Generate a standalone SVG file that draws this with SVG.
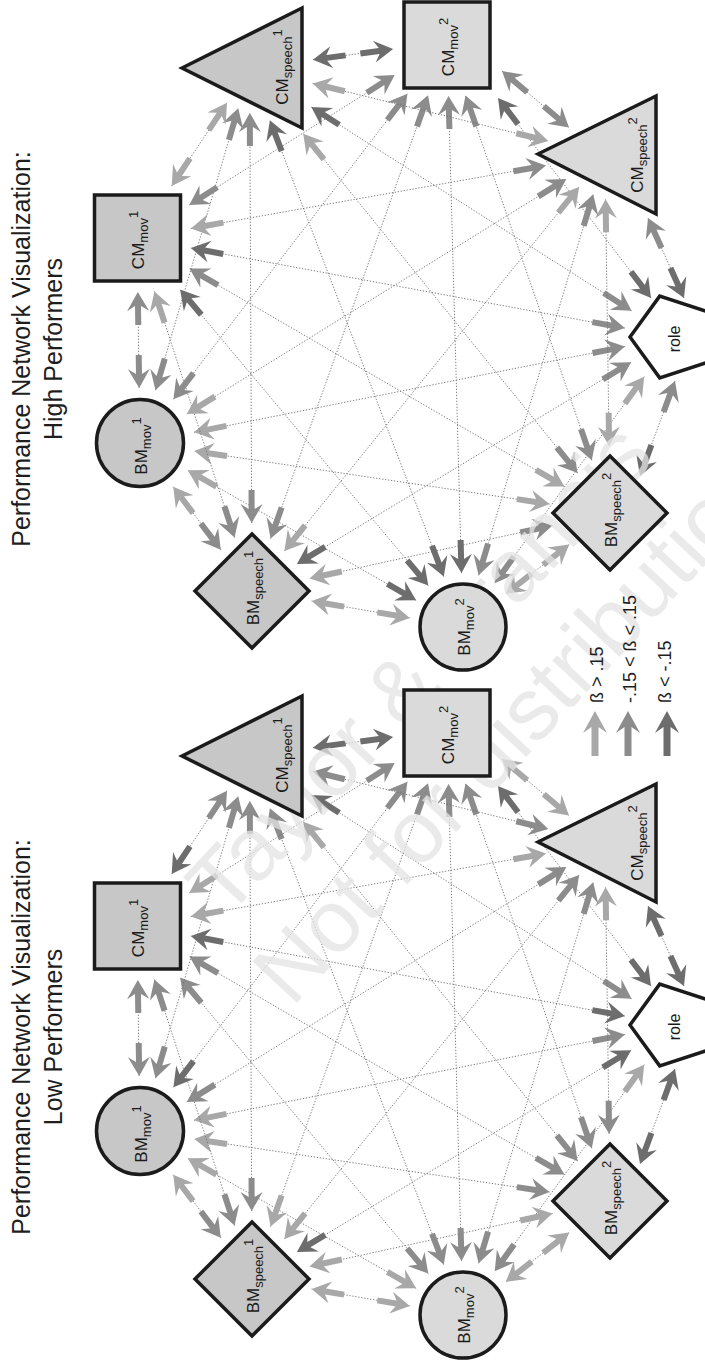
<svg xmlns="http://www.w3.org/2000/svg" width="705" height="1365" viewBox="0 0 705 1365">
<style>
.edge{stroke:#6e6e6e;stroke-width:0.9;stroke-dasharray:1.3 1.7;fill:none}
.sL{marker-start:url(#aL)}.sM{marker-start:url(#aM)}.sD{marker-start:url(#aD)}
.eL{marker-end:url(#aL)}.eM{marker-end:url(#aM)}.eD{marker-end:url(#aD)}
.nd{stroke:#1b1b1b;stroke-width:3.5}
.f1{fill:#c7c7c7}.f2{fill:#dadada}.f0{fill:#ffffff}
.lb{font-family:"Liberation Sans",Arial,sans-serif;font-size:17px;fill:#1a1a1a;text-anchor:middle}
.sb{font-size:13px}
.ttl{font-family:"Liberation Sans",Arial,sans-serif;font-size:25px;fill:#1e1e1e;text-anchor:middle}
.lg{font-family:"Liberation Sans",Arial,sans-serif;font-size:18px;fill:#1e1e1e}
.wm{font-family:"Liberation Sans",Arial,sans-serif;font-size:88px;fill:#e4e4e4;opacity:0.75}
</style>
<defs>
<marker id="aL" markerUnits="userSpaceOnUse" markerWidth="40" markerHeight="30" refX="0" refY="0" orient="auto-start-reverse" overflow="visible"><path d="M0,0 L-19,-11 L-14,-3 L-33,-3 L-33,3 L-14,3 L-19,11 Z" fill="#a8a8a8"/></marker>
<marker id="aM" markerUnits="userSpaceOnUse" markerWidth="40" markerHeight="30" refX="0" refY="0" orient="auto-start-reverse" overflow="visible"><path d="M0,0 L-19,-11 L-14,-3 L-33,-3 L-33,3 L-14,3 L-19,11 Z" fill="#8c8c8c"/></marker>
<marker id="aD" markerUnits="userSpaceOnUse" markerWidth="40" markerHeight="30" refX="0" refY="0" orient="auto-start-reverse" overflow="visible"><path d="M0,0 L-19,-11 L-14,-3 L-33,-3 L-33,3 L-14,3 L-19,11 Z" fill="#6d6d6d"/></marker>
</defs>
<rect width="705" height="1365" fill="#ffffff"/>

<!-- Panel titles -->
<g id="titles">
<text class="ttl" transform="translate(30,349) rotate(-90)">Performance Network Visualization:</text>
<text class="ttl" transform="translate(62,349) rotate(-90)">High Performers</text>
<text class="ttl" transform="translate(30,1037) rotate(-90)">Performance Network Visualization:</text>
<text class="ttl" transform="translate(62,1037) rotate(-90)">Low Performers</text>
</g>

<!-- Connectors: high performers (top) -->
<g id="high-edges">
<line class="edge sM eD" x1="675" y1="381" x2="640" y2="476"/>
<line class="edge sL eM" x1="644.2" y1="376.7" x2="494.7" y2="583.3"/>
<line class="edge sM eD" x1="631.1" y1="362.3" x2="296.9" y2="563.9"/>
<line class="edge sM eL" x1="624.9" y1="346.6" x2="194.0" y2="432.3"/>
<line class="edge sM eD" x1="624.8" y1="328.1" x2="190.8" y2="248.0"/>
<line class="edge sM eD" x1="631.6" y1="310.7" x2="311.3" y2="107.0"/>
<line class="edge sD eD" x1="651" y1="298" x2="498" y2="98"/>
<line class="edge sD eM" x1="684" y1="298" x2="648" y2="218"/>
<line class="edge sL eL" x1="569.2" y1="544.6" x2="505.7" y2="593.9"/>
<line class="edge sM eL" x1="552.5" y1="525.5" x2="309.5" y2="578.5"/>
<line class="edge sL eL" x1="549.5" y1="504.0" x2="194.4" y2="451.1"/>
<line class="edge sL eM" x1="564.4" y1="486.5" x2="189.5" y2="268.5"/>
<line class="edge sM eL" x1="577.6" y1="473.0" x2="303.2" y2="133.7"/>
<line class="edge sM eM" x1="591.8" y1="460.3" x2="465.5" y2="95.4"/>
<line class="edge sL eL" x1="609.1" y1="445.8" x2="605.6" y2="199.3"/>
<line class="edge sL eL" x1="409.8" y1="617.9" x2="311.6" y2="601.1"/>
<line class="edge sD eL" x1="416.1" y1="600.3" x2="187.8" y2="470.2"/>
<line class="edge sD eD" x1="428.3" y1="585.6" x2="180.1" y2="289.5"/>
<line class="edge sD eD" x1="443.8" y1="576.6" x2="269.9" y2="120.3"/>
<line class="edge sD eM" x1="461.5" y1="573" x2="448.5" y2="96"/>
<line class="edge sM eM" x1="478.6" y1="575.3" x2="593.2" y2="194.3"/>
<line class="edge sM eL" x1="220.8" y1="549.8" x2="173.2" y2="486.8"/>
<line class="edge sM eL" x1="234.6" y1="537.6" x2="154.4" y2="291.4"/>
<line class="edge sM eM" x1="251.7" y1="523" x2="249.8" y2="113"/>
<line class="edge sM eM" x1="270.6" y1="538.6" x2="428.0" y2="95.3"/>
<line class="edge sL eL" x1="284.4" y1="551.0" x2="579.1" y2="187.0"/>
<line class="edge sM eM" x1="139.2" y1="388" x2="137.8" y2="292"/>
<line class="edge sM eM" x1="155.5" y1="390.2" x2="238.2" y2="108.2"/>
<line class="edge sM eM" x1="173.4" y1="399.3" x2="407.4" y2="93.8"/>
<line class="edge sL eM" x1="186.8" y1="414.0" x2="566.3" y2="179.0"/>
<line class="edge sL eL" x1="171.7" y1="185.9" x2="227.0" y2="102.7"/>
<line class="edge sM eM" x1="189.3" y1="204.9" x2="394.7" y2="75.1"/>
<line class="edge sL eM" x1="190.9" y1="228.4" x2="545.9" y2="165.5"/>
<line class="edge sD eD" x1="312.9" y1="59.7" x2="393.1" y2="49.1"/>
<line class="edge sL eL" x1="312.7" y1="83.4" x2="548.3" y2="141.1"/>
<line class="edge sM eM" x1="502" y1="71" x2="569" y2="127.5"/>
</g>

<!-- Connectors: low performers (bottom) -->
<g id="low-edges" transform="translate(0,688)">
<line class="edge sD eD" x1="675" y1="381" x2="640" y2="476"/>
<line class="edge sL eM" x1="644.2" y1="376.7" x2="494.7" y2="583.3"/>
<line class="edge sD eD" x1="631.1" y1="362.3" x2="296.9" y2="563.9"/>
<line class="edge sM eL" x1="624.9" y1="346.6" x2="194.0" y2="432.3"/>
<line class="edge sD eD" x1="624.8" y1="328.1" x2="190.8" y2="248.0"/>
<line class="edge sM eD" x1="631.6" y1="310.7" x2="311.3" y2="107.0"/>
<line class="edge sD eD" x1="651" y1="298" x2="498" y2="98"/>
<line class="edge sD eD" x1="684" y1="298" x2="648" y2="218"/>
<line class="edge sL eL" x1="569.2" y1="544.6" x2="505.7" y2="593.9"/>
<line class="edge sL eL" x1="552.5" y1="525.5" x2="309.5" y2="578.5"/>
<line class="edge sM eL" x1="549.5" y1="504.0" x2="194.4" y2="451.1"/>
<line class="edge sM eM" x1="564.4" y1="486.5" x2="189.5" y2="268.5"/>
<line class="edge sM eL" x1="577.6" y1="473.0" x2="303.2" y2="133.7"/>
<line class="edge sM eM" x1="591.8" y1="460.3" x2="465.5" y2="95.4"/>
<line class="edge sM eL" x1="609.1" y1="445.8" x2="605.6" y2="199.3"/>
<line class="edge sL eL" x1="409.8" y1="617.9" x2="311.6" y2="601.1"/>
<line class="edge sL eL" x1="416.1" y1="600.3" x2="187.8" y2="470.2"/>
<line class="edge sM eM" x1="428.3" y1="585.6" x2="180.1" y2="289.5"/>
<line class="edge sM eM" x1="443.8" y1="576.6" x2="269.9" y2="120.3"/>
<line class="edge sM eM" x1="461.5" y1="573" x2="448.5" y2="96"/>
<line class="edge sM eM" x1="478.6" y1="575.3" x2="593.2" y2="194.3"/>
<line class="edge sM eL" x1="220.8" y1="549.8" x2="173.2" y2="486.8"/>
<line class="edge sM eM" x1="234.6" y1="537.6" x2="154.4" y2="291.4"/>
<line class="edge sM eM" x1="251.7" y1="523" x2="249.8" y2="113"/>
<line class="edge sL eM" x1="270.6" y1="538.6" x2="428.0" y2="95.3"/>
<line class="edge sL eM" x1="284.4" y1="551.0" x2="579.1" y2="187.0"/>
<line class="edge sM eM" x1="139.2" y1="388" x2="137.8" y2="292"/>
<line class="edge sM eM" x1="155.5" y1="390.2" x2="238.2" y2="108.2"/>
<line class="edge sD eM" x1="173.4" y1="399.3" x2="407.4" y2="93.8"/>
<line class="edge sM eM" x1="186.8" y1="414.0" x2="566.3" y2="179.0"/>
<line class="edge sD eM" x1="171.7" y1="185.9" x2="227.0" y2="102.7"/>
<line class="edge sL eM" x1="189.3" y1="204.9" x2="394.7" y2="75.1"/>
<line class="edge sL eL" x1="190.9" y1="228.4" x2="545.9" y2="165.5"/>
<line class="edge sD eD" x1="312.9" y1="59.7" x2="393.1" y2="49.1"/>
<line class="edge sM eM" x1="312.7" y1="83.4" x2="548.3" y2="141.1"/>
<line class="edge sL eL" x1="502" y1="71" x2="569" y2="127.5"/>
</g>

<!-- Publisher watermark, laid over the connectors -->
<g id="watermark">
<text class="wm" transform="translate(226,920) rotate(-47)">Taylor &amp; Francis</text>
<text class="wm" transform="translate(292,1008) rotate(-47)">Not for distribution</text>
</g>

<!-- Nodes: high performers -->
<g id="high-nodes">
<g id="high-bm-mov1"><circle class="nd f1" cx="140" cy="443" r="43.5"/><text class="lb" transform="translate(147,446) rotate(-90)">BM<tspan class="sb" dy="4">mov</tspan><tspan class="sb" dy="-10">1</tspan></text></g>
<g id="high-cm-mov1"><rect class="nd f1" x="94.5" y="195" width="86" height="86"/><text class="lb" transform="translate(144,240) rotate(-90)">CM<tspan class="sb" dy="4">mov</tspan><tspan class="sb" dy="-10">1</tspan></text></g>
<g id="high-cm-speech1"><polygon class="nd f1" points="182,68 302,8 302,128"/><text class="lb" transform="translate(288,67) rotate(-90)">CM<tspan class="sb" dy="4">speech</tspan><tspan class="sb" dy="-10">1</tspan></text></g>
<g id="high-cm-mov2"><rect class="nd f2" x="404" y="2" width="86" height="86"/><text class="lb" transform="translate(454,47) rotate(-90)">CM<tspan class="sb" dy="4">mov</tspan><tspan class="sb" dy="-10">2</tspan></text></g>
<g id="high-cm-speech2"><polygon class="nd f2" points="538,154 656,96 656,214"/><text class="lb" transform="translate(643,155) rotate(-90)">CM<tspan class="sb" dy="4">speech</tspan><tspan class="sb" dy="-10">2</tspan></text></g>
<g id="high-role"><polygon class="nd f0" points="630,337 659.7,377.9 707.8,362.3 707.8,311.7 659.7,296.1"/><text class="lb" style="font-size:16px" transform="translate(680,339) rotate(-90)">role</text></g>
<g id="high-bm-speech2"><polygon class="nd f2" points="610,456 667,513 610,570 553,513"/><text class="lb" transform="translate(617,510) rotate(-90)">BM<tspan class="sb" dy="4">speech</tspan><tspan class="sb" dy="-10">2</tspan></text></g>
<g id="high-bm-mov2"><circle class="nd f2" cx="463" cy="627" r="43"/><text class="lb" transform="translate(470,627) rotate(-90)">BM<tspan class="sb" dy="4">mov</tspan><tspan class="sb" dy="-10">2</tspan></text></g>
<g id="high-bm-speech1"><polygon class="nd f1" points="252,534 309,591 252,648 195,591"/><text class="lb" transform="translate(259,588) rotate(-90)">BM<tspan class="sb" dy="4">speech</tspan><tspan class="sb" dy="-10">1</tspan></text></g>
</g>

<!-- Nodes: low performers -->
<g id="low-nodes" transform="translate(0,688)">
<g id="low-bm-mov1"><circle class="nd f1" cx="140" cy="443" r="43.5"/><text class="lb" transform="translate(147,446) rotate(-90)">BM<tspan class="sb" dy="4">mov</tspan><tspan class="sb" dy="-10">1</tspan></text></g>
<g id="low-cm-mov1"><rect class="nd f1" x="94.5" y="195" width="86" height="86"/><text class="lb" transform="translate(144,240) rotate(-90)">CM<tspan class="sb" dy="4">mov</tspan><tspan class="sb" dy="-10">1</tspan></text></g>
<g id="low-cm-speech1"><polygon class="nd f1" points="182,68 302,8 302,128"/><text class="lb" transform="translate(288,67) rotate(-90)">CM<tspan class="sb" dy="4">speech</tspan><tspan class="sb" dy="-10">1</tspan></text></g>
<g id="low-cm-mov2"><rect class="nd f2" x="404" y="2" width="86" height="86"/><text class="lb" transform="translate(454,47) rotate(-90)">CM<tspan class="sb" dy="4">mov</tspan><tspan class="sb" dy="-10">2</tspan></text></g>
<g id="low-cm-speech2"><polygon class="nd f2" points="538,154 656,96 656,214"/><text class="lb" transform="translate(643,155) rotate(-90)">CM<tspan class="sb" dy="4">speech</tspan><tspan class="sb" dy="-10">2</tspan></text></g>
<g id="low-role"><polygon class="nd f0" points="630,337 659.7,377.9 707.8,362.3 707.8,311.7 659.7,296.1"/><text class="lb" style="font-size:16px" transform="translate(680,339) rotate(-90)">role</text></g>
<g id="low-bm-speech2"><polygon class="nd f2" points="610,456 667,513 610,570 553,513"/><text class="lb" transform="translate(617,510) rotate(-90)">BM<tspan class="sb" dy="4">speech</tspan><tspan class="sb" dy="-10">2</tspan></text></g>
<g id="low-bm-mov2"><circle class="nd f2" cx="463" cy="627" r="43"/><text class="lb" transform="translate(470,627) rotate(-90)">BM<tspan class="sb" dy="4">mov</tspan><tspan class="sb" dy="-10">2</tspan></text></g>
<g id="low-bm-speech1"><polygon class="nd f1" points="252,534 309,591 252,648 195,591"/><text class="lb" transform="translate(259,588) rotate(-90)">BM<tspan class="sb" dy="4">speech</tspan><tspan class="sb" dy="-10">1</tspan></text></g>
</g>

<!-- Legend -->
<g id="legend">
<polygon points="595,711 607,733 598.5,727 598.5,756 591.5,756 591.5,727 583,733" fill="#a8a8a8"/>
<polygon points="628,711 640,733 631.5,727 631.5,756 624.5,756 624.5,727 616,733" fill="#8c8c8c"/>
<polygon points="667,711 679,733 670.5,727 670.5,756 663.5,756 663.5,727 655,733" fill="#6d6d6d"/>
<text class="lg" transform="translate(603,703) rotate(-90)">ß &gt; .15</text>
<text class="lg" transform="translate(636,703) rotate(-90)">-.15 &lt; ß &lt; .15</text>
<text class="lg" transform="translate(671,703) rotate(-90)">ß &lt; -.15</text>
</g>
</svg>
